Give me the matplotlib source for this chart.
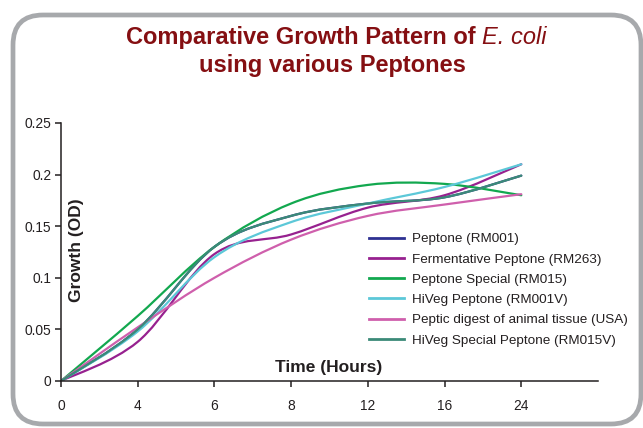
import numpy as np
import matplotlib
matplotlib.use("Agg")
import matplotlib.pyplot as plt
from matplotlib.path import Path
from matplotlib.patches import PathPatch, FancyBboxPatch
from matplotlib.lines import Line2D

plt.rcParams['font.family'] = ['Liberation Sans', 'DejaVu Sans']

# ============================================================
# DATA
# ============================================================

hours = ["0", "4", "6", "8", "12", "16", "24"]

series_names = [
    "Peptone (RM001)",
    "Fermentative Peptone (RM263)",
    "Peptone Special (RM015)",
    "HiVeg Peptone (RM001V)",
    "Peptic digest of animal tissue (USA)",
    "HiVeg Special Peptone (RM015V)",
]

peptone_rm001 = [0, 0.050, 0.130, 0.160, 0.172, 0.178, 0.199]
fermentative_rm263 = [0, 0.038, 0.123, 0.142, 0.168, 0.180, 0.210]
special_rm015 = [0, 0.063, 0.130, 0.172, 0.190, 0.191, 0.180]
hiveg_rm001v = [0, 0.048, 0.120, 0.154, 0.172, 0.188, 0.210]
peptic_usa = [0, 0.052, 0.100, 0.137, 0.160, 0.171, 0.181]
hiveg_special_rm015v = [0, 0.050, 0.130, 0.160, 0.172, 0.178, 0.199]

series_values = [
    peptone_rm001,
    fermentative_rm263,
    special_rm015,
    hiveg_rm001v,
    peptic_usa,
    hiveg_special_rm015v,
]

colors = ["#2e3192", "#97218f", "#12a84f", "#5cc8d8", "#cf5fac", "#3b8a78"]

# ============================================================
# SMOOTHED LINE (Bezier through the points)
# ============================================================


def smooth_path(xs, ys):
    pts = np.column_stack([xs, ys]).astype(float)
    n = len(pts)
    verts = [pts[0]]
    codes = [Path.MOVETO]
    for i in range(n - 1):
        p0 = pts[max(i - 1, 0)]
        p1 = pts[i]
        p2 = pts[i + 1]
        p3 = pts[min(i + 2, n - 1)]
        c1 = p1 + (p2 - p0) / 6.0
        c2 = p2 - (p3 - p1) / 6.0
        verts += [c1, c2, p2]
        codes += [Path.CURVE4] * 3
    return Path(verts, codes)


# ============================================================
# FIGURE
# ============================================================

W, H = 643, 428
fig = plt.figure(figsize=(W / 100, H / 100), dpi=100)

# rounded grey card border
bg = fig.add_axes([0, 0, 1, 1])
bg.set_xlim(0, W)
bg.set_ylim(H, 0)
bg.axis("off")
bg.add_patch(FancyBboxPatch(
    (13, 15), 628, 409,
    boxstyle="round,pad=0,rounding_size=30",
    facecolor="white", edgecolor="#a7a9ac", linewidth=3.4
))

ax = fig.add_axes([61 / W, 1 - 381 / H, (598 - 61) / W, (381 - 123) / H])
ax.patch.set_alpha(0)

x = np.arange(len(hours))

for vals, col in zip(series_values, colors):
    ax.add_patch(PathPatch(
        smooth_path(x, vals),
        facecolor="none", edgecolor=col, linewidth=1.6,
        capstyle="round"
    ))

ax.set_xlim(0, 7)
ax.set_ylim(0, 0.25)
ax.set_xticks(x)
ax.set_xticklabels(hours)
ax.set_yticks([0, 0.05, 0.1, 0.15, 0.2, 0.25])
ax.set_yticklabels(["0", "0.05", "0.1", "0.15", "0.2", "0.25"])

for side in ["top", "right"]:
    ax.spines[side].set_visible(False)
for side in ["left", "bottom"]:
    ax.spines[side].set_color("#231f20")
    ax.spines[side].set_linewidth(1.1)

ax.tick_params(axis="both", direction="out", length=4, width=1.1,
               color="#231f20", labelcolor="#231f20", labelsize=9.9)
ax.tick_params(axis="x", pad=9)
ax.tick_params(axis="y", pad=3)

ax.text(0.499, 0.054, "Time (Hours)", transform=ax.transAxes,
        ha="center", va="center", fontsize=12.5, fontweight="bold",
        color="#231f20")
ax.text(0.028, 0.508, "Growth (OD)", transform=ax.transAxes,
        ha="center", va="center", rotation=90, fontsize=12.5,
        fontweight="bold", color="#231f20")

handles = [Line2D([], [], color=c, linewidth=2.0) for c in colors]
fig.legend(
    handles, series_names,
    loc="upper left", bbox_to_anchor=(369 / W, 1 - 233 / H),
    frameon=False, fontsize=9.7, handlelength=2.6, handletextpad=0.6,
    labelspacing=0.58, borderpad=0, borderaxespad=0,
    labelcolor="#231f20"
)

# ============================================================
# TITLE
# ============================================================

title_color = "#850f12"
renderer = fig.canvas.get_renderer()

part1 = bg.text(0, 44, "Comparative Growth Pattern of ", fontsize=17,
                fontweight="bold", color=title_color, va="baseline")
part2 = bg.text(0, 44, "E. coli", fontsize=17, fontstyle="italic",
                color=title_color, va="baseline")
w1 = part1.get_window_extent(renderer).width
w2 = part2.get_window_extent(renderer).width
x0 = 336.5 - (w1 + w2) / 2
part1.set_x(x0)
part2.set_x(x0 + w1)

bg.text(332, 72, "using various Peptones", fontsize=17, fontweight="bold",
        color=title_color, ha="center", va="baseline")

fig.savefig("out.png", dpi=100)
